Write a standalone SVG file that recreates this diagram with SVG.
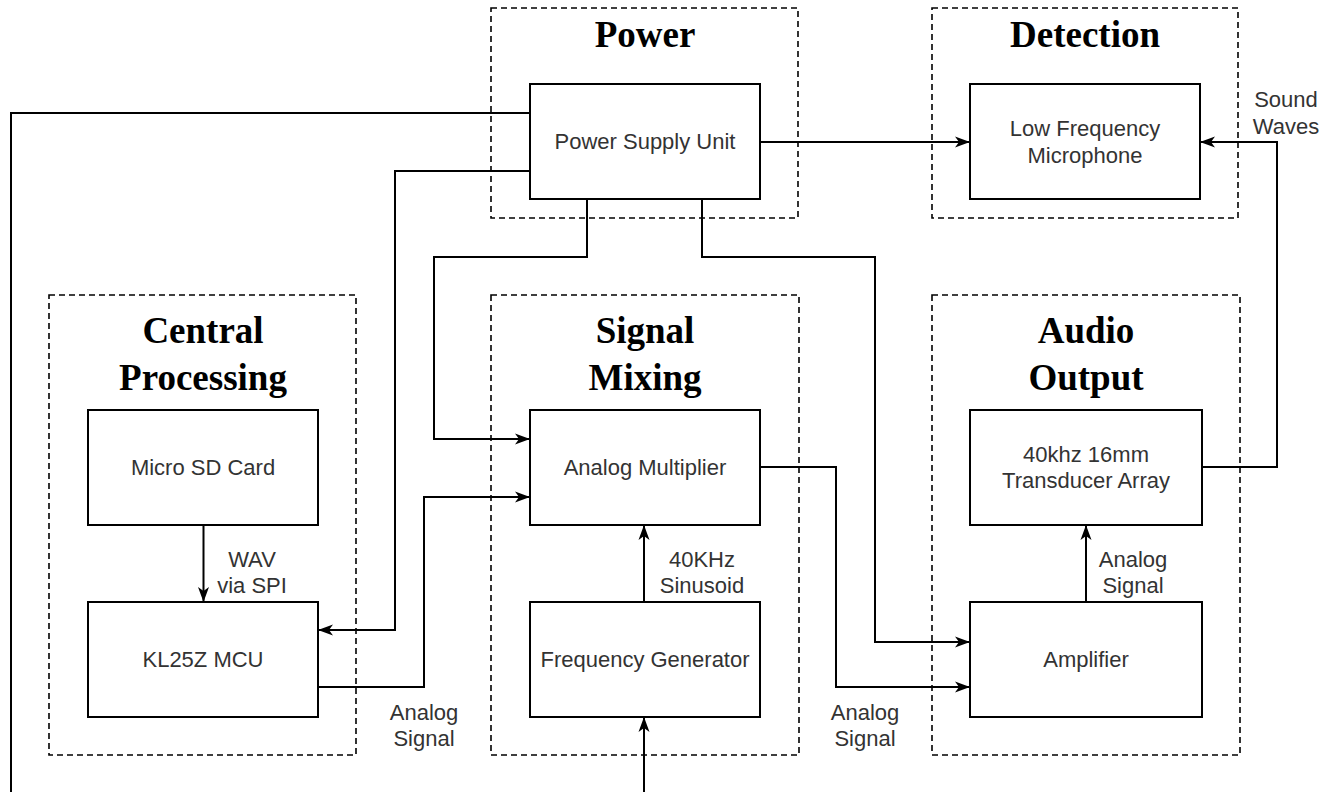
<svg xmlns="http://www.w3.org/2000/svg" width="1325" height="792" viewBox="0 0 1325 792">
<style>
.grp{fill:none;stroke:#000;stroke-width:1.6;stroke-dasharray:6 4}
.box{fill:#fff;stroke:#000;stroke-width:2}
.title{font-family:"Liberation Serif","Times New Roman",serif;font-weight:bold;font-size:37px;fill:#000;text-anchor:middle}
.lbl{font-family:"Liberation Sans",Arial,sans-serif;font-size:22px;fill:#333;text-anchor:middle}
.edge{fill:none;stroke:#000;stroke-width:2}
</style>
<defs>
<marker id="arr" markerUnits="userSpaceOnUse" markerWidth="16" markerHeight="12" refX="15" refY="6" orient="auto">
<path d="M0,0.5 L15,6 L0,11.5 L4,6 Z" fill="#000"/>
</marker>
</defs>
<rect width="1325" height="792" fill="#fff"/>

<g id="group-power">
<rect class="grp" x="491" y="8" width="307" height="210"/>
<text class="title" x="645" y="47">Power</text>
</g>
<g id="group-detection">
<rect class="grp" x="932" y="8" width="306" height="210"/>
<text class="title" x="1085" y="47">Detection</text>
</g>
<g id="group-central">
<rect class="grp" x="49" y="295" width="307" height="460"/>
<text class="title" x="203" y="343">Central</text>
<text class="title" x="203" y="390">Processing</text>
</g>
<g id="group-mixing">
<rect class="grp" x="491" y="295" width="308" height="460"/>
<text class="title" x="645" y="343">Signal</text>
<text class="title" x="645" y="390">Mixing</text>
</g>
<g id="group-audio">
<rect class="grp" x="932" y="295" width="308" height="460"/>
<text class="title" x="1086" y="343">Audio</text>
<text class="title" x="1086" y="390">Output</text>
</g>

<g id="connectors">
<path class="edge" d="M530,113 H11 V792"/>
<path class="edge" d="M644,792 V717" marker-end="url(#arr)"/>
<path class="edge" d="M530,171 H395 V630 H318" marker-end="url(#arr)"/>
<path class="edge" d="M587,199 V257 H434 V439 H530" marker-end="url(#arr)"/>
<path class="edge" d="M702,199 V257 H875 V642 H970" marker-end="url(#arr)"/>
<path class="edge" d="M760,142 H970" marker-end="url(#arr)"/>
<path class="edge" d="M1202,467 H1277 V142 H1200" marker-end="url(#arr)"/>
<path class="edge" d="M203.5,525 V602" marker-end="url(#arr)"/>
<path class="edge" d="M318,687 H424 V497 H530" marker-end="url(#arr)"/>
<path class="edge" d="M644,602 V525" marker-end="url(#arr)"/>
<path class="edge" d="M760,467 H836 V687 H970" marker-end="url(#arr)"/>
<path class="edge" d="M1086,602 V525" marker-end="url(#arr)"/>
<text class="lbl" x="1286" y="107">Sound</text>
<text class="lbl" x="1286" y="134">Waves</text>
<text class="lbl" x="252" y="567">WAV</text>
<text class="lbl" x="252" y="593">via SPI</text>
<text class="lbl" x="702" y="567">40KHz</text>
<text class="lbl" x="702" y="593">Sinusoid</text>
<text class="lbl" x="1133" y="567">Analog</text>
<text class="lbl" x="1133" y="593">Signal</text>
<text class="lbl" x="424" y="720">Analog</text>
<text class="lbl" x="424" y="746">Signal</text>
<text class="lbl" x="865" y="720">Analog</text>
<text class="lbl" x="865" y="746">Signal</text>
</g>

<g id="node-psu">
<rect class="box" x="530" y="84" width="230" height="115"/>
<text class="lbl" x="645" y="149">Power Supply Unit</text>
</g>
<g id="node-mic">
<rect class="box" x="970" y="84" width="230" height="115"/>
<text class="lbl" x="1085" y="136">Low Frequency</text>
<text class="lbl" x="1085" y="163">Microphone</text>
</g>
<g id="node-sd">
<rect class="box" x="88" y="410" width="230" height="115"/>
<text class="lbl" x="203" y="475">Micro SD Card</text>
</g>
<g id="node-mcu">
<rect class="box" x="88" y="602" width="230" height="115"/>
<text class="lbl" x="203" y="667">KL25Z MCU</text>
</g>
<g id="node-mult">
<rect class="box" x="530" y="410" width="230" height="115"/>
<text class="lbl" x="645" y="475">Analog Multiplier</text>
</g>
<g id="node-freq">
<rect class="box" x="530" y="602" width="230" height="115"/>
<text class="lbl" x="645" y="667">Frequency Generator</text>
</g>
<g id="node-transducer">
<rect class="box" x="970" y="410" width="232" height="115"/>
<text class="lbl" x="1086" y="462">40khz 16mm</text>
<text class="lbl" x="1086" y="488">Transducer Array</text>
</g>
<g id="node-amp">
<rect class="box" x="970" y="602" width="232" height="115"/>
<text class="lbl" x="1086" y="667">Amplifier</text>
</g>
</svg>
